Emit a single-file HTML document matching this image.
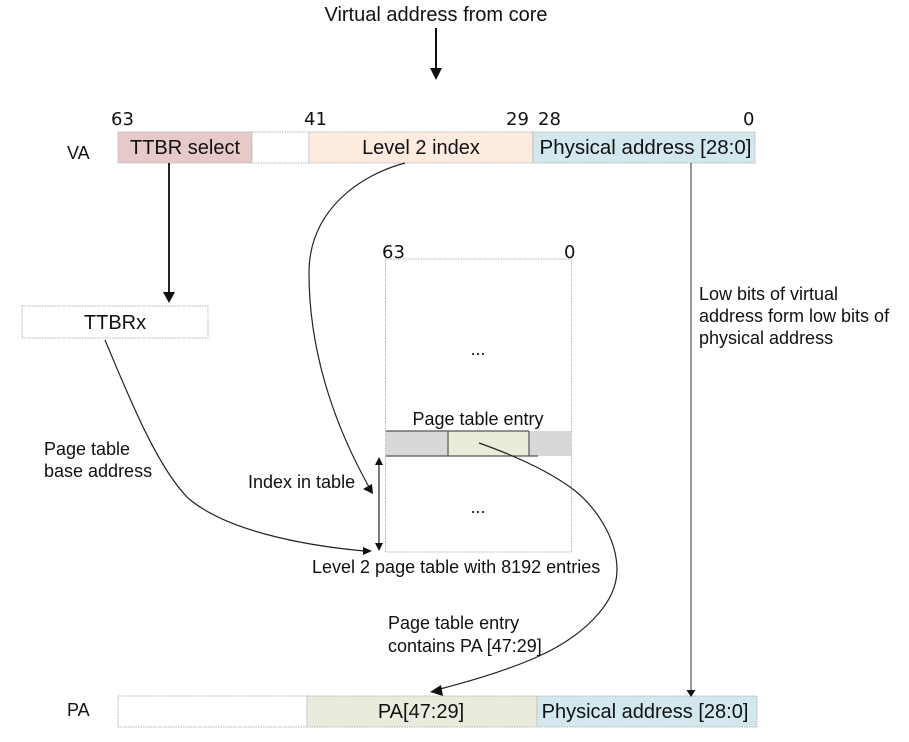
<!DOCTYPE html>
<html><head><meta charset="utf-8"><style>
html,body{margin:0;padding:0;background:#fff}
svg{display:block}
text{font-family:"Liberation Sans",sans-serif;font-size:18px;fill:#111}
.m{font-family:"DejaVu Sans",sans-serif;font-size:18px}
.t{font-size:20px}
.b{stroke:#b5b5b5;stroke-width:1;stroke-dasharray:1.5 1}
.l{fill:none;stroke:#222;stroke-width:1.2}
</style></head><body>
<svg width="909" height="742" viewBox="0 0 909 742" xmlns="http://www.w3.org/2000/svg">
<rect width="909" height="742" fill="#fff"/>
<text class="t" x="436" y="21" text-anchor="middle">Virtual address from core</text>
<line x1="436" y1="28" x2="436" y2="70" stroke="#111" stroke-width="2"/>
<polygon points="430,68 442,68 436,80" fill="#111"/>

<text class="m" x="111" y="125">63</text>
<text class="m" x="304" y="125">41</text>
<text class="m" x="506" y="125">29</text>
<text class="m" x="538" y="125">28</text>
<text class="m" x="743" y="125">0</text>
<text x="67" y="159">VA</text>

<rect x="118" y="132" width="134" height="31" fill="#e6c9c8" class="b"/>
<rect x="252" y="132" width="57" height="31" fill="#fff" class="b"/>
<rect x="309" y="132" width="224" height="31" fill="#fdebe0" class="b"/>
<rect x="533" y="132" width="222" height="31" fill="#d3e7ee" class="b"/>
<text class="t" x="185" y="154" text-anchor="middle">TTBR select</text>
<text class="t" x="421" y="154" text-anchor="middle">Level 2 index</text>
<text class="t" x="645.500" y="154" text-anchor="middle" style="font-size:20.500px">Physical address [28:0]</text>

<line x1="169" y1="163" x2="169" y2="294" stroke="#222" stroke-width="2"/>
<polygon points="163,292 175,292 169,303" fill="#111"/>

<rect x="22" y="306" width="186" height="32" fill="#fff" class="b"/>
<text class="t" x="115" y="329" text-anchor="middle">TTBRx</text>

<text x="44" y="455">Page table</text>
<text x="44" y="477">base address</text>

<text class="m" x="382" y="258">63</text>
<text class="m" x="564" y="258">0</text>
<rect x="385.500" y="259" width="186" height="293" fill="#fff" class="b"/>
<text x="478" y="355" text-anchor="middle">...</text>
<text x="478" y="513" text-anchor="middle">...</text>
<text x="478" y="425" text-anchor="middle">Page table entry</text>

<rect x="386" y="431" width="185" height="25" fill="#d8d8d8"/>
<rect x="448" y="431" width="81" height="25" fill="#e9ecd9"/>
<line x1="386" y1="431" x2="529" y2="431" stroke="#555" stroke-width="1.2"/>
<line x1="386" y1="456" x2="538" y2="456" stroke="#555" stroke-width="1.2"/>
<line x1="448" y1="431" x2="448" y2="456" stroke="#555" stroke-width="1.2"/>
<line x1="529" y1="431" x2="529" y2="456" stroke="#555" stroke-width="1.2"/>

<text x="248" y="488">Index in table</text>
<text x="312" y="573">Level 2 page table with 8192 entries</text>
<text x="388" y="629">Page table entry</text>
<text x="388" y="652">contains PA [47:29]</text>
<text x="699" y="300">Low bits of virtual</text>
<text x="699" y="322">address form low bits of</text>
<text x="699" y="344">physical address</text>

<text x="67" y="716">PA</text>
<rect x="118" y="696" width="189" height="31" fill="#fff" class="b"/>
<rect x="307" y="696" width="230" height="31" fill="#e9ecdc" class="b"/>
<rect x="537" y="696" width="220" height="31" fill="#d3e7ee" class="b"/>
<text class="t" x="421" y="718" text-anchor="middle">PA[47:29]</text>
<text class="t" x="645" y="718" text-anchor="middle">Physical address [28:0]</text>

<path class="l" d="M105 340 C130 400 158 468 188 498 C225 530 300 545 364 551"/>
<polygon points="363,547 372,551 363,555" fill="#111"/>

<path class="l" d="M405 163 C360 175 309 210 309 273 C309 360 340 435 369 487"/>
<polygon points="363,489 372,484 373,494" fill="#111"/>

<line x1="379" y1="464" x2="379" y2="544" stroke="#222" stroke-width="1.2"/>
<polygon points="375,465 383,465 379,457" fill="#111"/>
<polygon points="375,543 383,543 379,551" fill="#111"/>

<path class="l" d="M479 443 C510 454 545 469 570 487 C594 504 617 537 617 570 C617 605 580 638 537 657 C510 669 475 680 440 689"/>
<polygon points="441,685 443,696 430,692" fill="#111"/>

<line x1="691" y1="163" x2="691" y2="690" stroke="#555" stroke-width="1.2"/>
<polygon points="686.500,690 695.500,690 691,697" fill="#111"/>
</svg>
</body></html>
